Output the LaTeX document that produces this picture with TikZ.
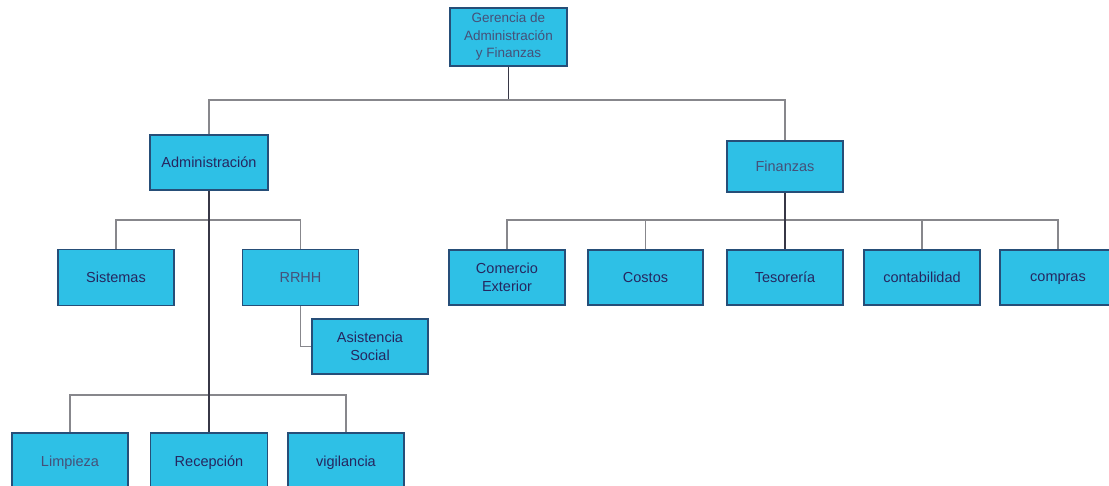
\documentclass[tikz,border=0pt]{standalone}
\usepackage{fontspec}
\setmainfont{Liberation Sans}
\definecolor{boxfill}{RGB}{46,192,230}
\definecolor{boxedge}{RGB}{38,78,120}
\definecolor{txtdark}{RGB}{38,38,95}
\definecolor{txtsoft}{RGB}{70,80,120}
\definecolor{trunkc}{RGB}{55,55,70}
\definecolor{barc}{RGB}{135,135,140}
\begin{document}
\begin{tikzpicture}[x=1pt,y=-1pt,
  unit/.style={draw=boxedge, line width=1.4pt, fill=boxfill, text=txtdark,
    minimum width=116pt, minimum height=55pt, inner sep=2pt, align=center,
    font=\fontsize{14.5}{17.5}\selectfont},
  soft/.style={text=txtsoft},
  trunk/.style={draw=trunkc, line width=1.6pt},
  bar/.style={draw=barc, line width=1.4pt}]
\path[use as bounding box, clip] (0,0) rectangle (1109,486);
\fill[white] (0,0) rectangle (1109,486);

% bus levels
\coordinate (busA) at (0,100);
\coordinate (busS) at (0,220);
\coordinate (busF) at (0,220);
\coordinate (busB) at (0,395);

% top
\node[unit, soft, minimum width=117pt, minimum height=58pt,
  font=\fontsize{13.5}{17.5}\selectfont] (ger) at (508.5,37)
  {Gerencia de\\Administración\\y Finanzas};
\node[unit, minimum width=118pt] (adm) at (209,162.5) {Administración};
\node[unit, soft, minimum height=51pt] (fin) at (785,166.5) {Finanzas};

% administration branch
\node[unit, minimum height=56pt] (sis) at (116,277.5) {Sistemas};
\node[unit, soft, minimum height=56pt] (rrhh) at (300.5,277.5) {RRHH};
\node[unit] (asis) at (370,346.5) {Asistencia\\Social};
\node[unit, soft, minimum height=60pt] (lim) at (70,463) {Limpieza};
\node[unit, minimum width=117pt, minimum height=60pt] (rec) at (209,463) {Recepción};
\node[unit, minimum height=60pt] (vig) at (346,463) {vigilancia};

% finance branch
\node[unit] (com) at (507,277.5) {Comercio\\Exterior};
\node[unit, minimum width=115pt] (cos) at (645.5,277.5) {Costos};
\node[unit] (tes) at (785,277.5) {Tesorería};
\node[unit] (con) at (922,277.5) {contabilidad};
\node[unit, text depth=0pt] (cmp) at (1058,277.5) {compras};

% connectors
\draw[trunk] (ger.south) -- (ger.south |- busA);
\draw[bar] (adm.north) |- (fin.north |- busA) -- (fin.north);

\draw[bar] (sis.north) |- (rrhh.north |- busS) -- (rrhh.north);
\draw[bar] (rrhh.south) |- (asis.west);
\draw[bar] (lim.north) |- (vig.north |- busB) -- (vig.north);
\draw[trunk] (adm.south) -- (rec.north);

\draw[bar] (com.north) |- (cmp.north |- busF) -- (cmp.north);
\draw[bar] (cos.north) -- (cos.north |- busF);
\draw[bar] (con.north) -- (con.north |- busF);
\draw[trunk] (fin.south) -- (tes.north);
\end{tikzpicture}
\end{document}
